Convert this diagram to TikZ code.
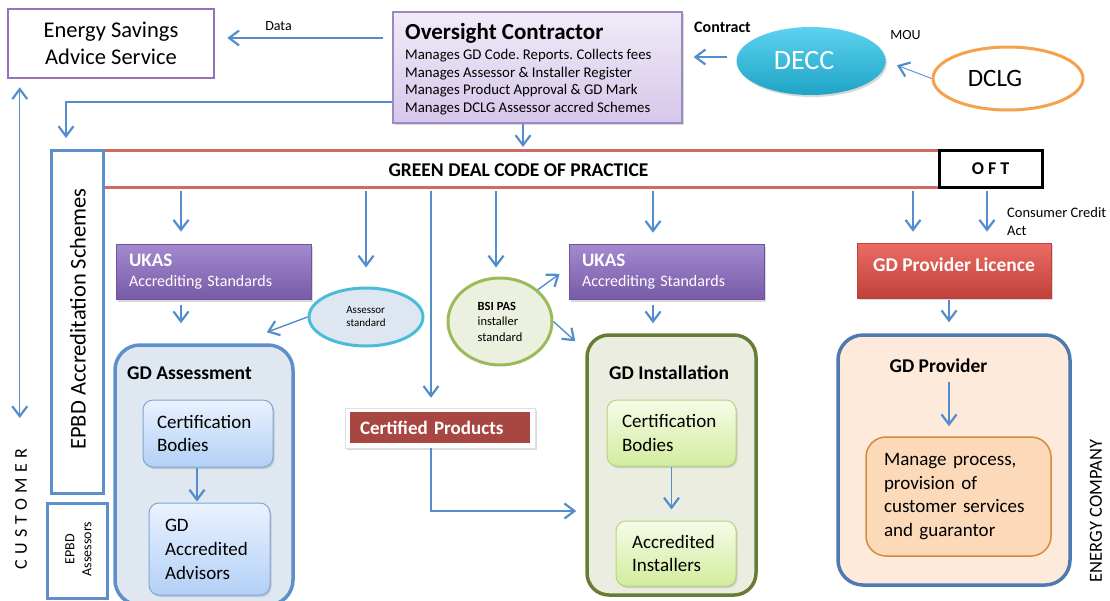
\documentclass[tikz,border=0pt]{standalone}
\usepackage{fontspec}
\setmainfont{Carlito}
\frenchspacing
\usetikzlibrary{arrows.meta,shapes.geometric,shadows}

\definecolor{arrowblue}{RGB}{84,141,206}
\definecolor{esaspurple}{RGB}{150,115,185}
\definecolor{octop}{RGB}{241,235,248}
\definecolor{ocbot}{RGB}{213,199,234}
\definecolor{ocline}{RGB}{158,136,194}
\definecolor{deccbright}{RGB}{92,210,238}
\definecolor{deccdark}{RGB}{30,164,198}
\definecolor{dclgorange}{RGB}{247,160,77}
\definecolor{codered}{RGB}{209,105,98}
\definecolor{epbdblue}{RGB}{92,143,204}
\definecolor{ukastop}{RGB}{163,138,208}
\definecolor{ukasbot}{RGB}{120,90,166}
\definecolor{ukasline}{RGB}{110,84,152}
\definecolor{asstdfill}{RGB}{222,231,241}
\definecolor{asstdline}{RGB}{75,188,216}
\definecolor{bsifill}{RGB}{235,241,222}
\definecolor{bsiline}{RGB}{155,187,89}
\definecolor{gdafill}{RGB}{223,231,241}
\definecolor{cbbluetop}{RGB}{234,242,254}
\definecolor{cbbluebot}{RGB}{178,208,246}
\definecolor{cbblueline}{RGB}{126,166,214}
\definecolor{gdifill}{RGB}{235,237,224}
\definecolor{gdiline}{RGB}{103,124,53}
\definecolor{cbgreentop}{RGB}{246,251,232}
\definecolor{cbgreenbot}{RGB}{210,237,158}
\definecolor{cbgreenline}{RGB}{180,214,124}
\definecolor{cpred}{RGB}{168,70,66}
\definecolor{lictop}{RGB}{234,108,99}
\definecolor{licbot}{RGB}{192,65,58}
\definecolor{gdpfill}{RGB}{253,234,219}
\definecolor{gdpline}{RGB}{77,122,176}
\definecolor{mgmtfill}{RGB}{251,217,185}
\definecolor{mgmtline}{RGB}{211,139,63}

\tikzset{
	arr/.style={draw=arrowblue, line width=1.4pt, -{Straight Barb[length=10pt,width=15pt,line width=2.2pt]}},
	arrboth/.style={arr, {Straight Barb[length=10pt,width=15pt,line width=2.2pt]}-{Straight Barb[length=10pt,width=15pt,line width=2.2pt]}},
	arrthin/.style={arr, line width=0.9pt},
	dropshade/.style={drop shadow={shadow xshift=1.5pt, shadow yshift=-2pt, opacity=0.3}},
	bodytext/.style={font=\fontsize{19}{23.5}\selectfont},
	boxtitle/.style={inner sep=0pt, font=\fontsize{19.5}{23}\selectfont\bfseries},
	ukasbox/.style={dropshade, draw=ukasline, line width=0.6pt, top color=ukastop, bottom color=ukasbot, text=white, minimum width=195pt, minimum height=55pt, inner xsep=13pt, text width=169pt, align=left, font=\fontsize{16}{20}\selectfont},
	cbblue/.style={bodytext, dropshade, rounded corners=10pt, draw=cbblueline, line width=1pt, top color=cbbluetop, bottom color=cbbluebot, align=left},
	cbgreen/.style={bodytext, dropshade, rounded corners=10pt, draw=cbgreenline, line width=1pt, top color=cbgreentop, bottom color=cbgreenbot, align=left},
	container/.style={rounded corners=25pt, line width=3.5pt, minimum height=260pt},
}

\begin{document}
\begin{tikzpicture}[x=1pt, y=-1pt]
	\useasboundingbox (0,0) rectangle (1110,600);

	\node[draw=esaspurple, line width=2.5pt, fill=white, minimum width=206pt, minimum height=69pt, align=center, font=\fontsize{22.5}{27.5}\selectfont] (esas) at (111,43.5) {Energy Savings\\Advice Service};
	\node[font=\fontsize{14}{16}\selectfont] (data) at (278.5,26) {Data};

	\node[dropshade, draw=ocline, line width=1.2pt, top color=octop, bottom color=ocbot, minimum width=289pt, minimum height=111pt] (oc) at (537.5,67.5) {};
	\node[anchor=west, inner sep=0pt, font=\fontsize{23}{26}\selectfont\bfseries] (octitle) at (405,33) {Oversight Contractor};
	\node[anchor=west, inner sep=0pt, align=left, font=\fontsize{14.8}{17.5}\selectfont] (ocduties) at (405,82) {Manages GD Code. Reports. Collects fees\\Manages Assessor \& Installer Register\\Manages Product Approval \& GD Mark\\Manages DCLG Assessor accred Schemes};

	\node[font=\fontsize{16}{18}\selectfont\bfseries] (contract) at (722.5,27) {Contract};
	\node[ellipse, dropshade, top color=deccbright, bottom color=deccdark, minimum width=149pt, minimum height=68pt, text=white, font=\fontsize{28}{30}\selectfont] (decc) at (811,61) {DECC\hspace*{14pt}};
	\node[font=\fontsize{14}{16}\selectfont] (mou) at (905.5,35) {MOU};
	\node[ellipse, draw=dclgorange, line width=3pt, fill=white, minimum width=150pt, minimum height=63pt, font=\fontsize{25}{28}\selectfont] (dclg) at (1008,78.5) {DCLG\hspace*{26pt}};

	\node[dropshade, draw=codered, line width=3pt, fill=white, minimum width=939pt, minimum height=37pt] (bar) at (572.5,168.5) {};
	\node[inner sep=0pt, font=\fontsize{19.5}{21}\selectfont\bfseries] (gdcop) at (518.5,170) {GREEN DEAL CODE OF PRACTICE};
	\node[dropshade, draw=black, line width=3pt, fill=white, minimum width=103pt, minimum height=37pt, font=\fontsize{18}{20}\selectfont\bfseries] (oft) at (990.5,168.5) {O F T};

	\node[draw=epbdblue, line width=3pt, fill=white, minimum width=52pt, minimum height=343pt] (epbd) at (77,321.5) {};
	\node[rotate=90, inner sep=0pt, font=\fontsize{22.5}{24}\selectfont] (epbdtxt) at (78,319) {EPBD Accreditation Schemes};
	\node[draw=epbdblue, line width=3pt, fill=white, minimum width=60pt, minimum height=95pt] (epbdass) at (77,550.5) {};
	\node[rotate=90, inner sep=0pt, align=center, font=\fontsize{14}{17}\selectfont] (epbdasstxt) at (78.5,549) {EPBD\\Assessors};
	\node[rotate=90, inner sep=0pt, font=\fontsize{18}{20}\selectfont\addfontfeature{LetterSpace=30}] (customer) at (21,509) {CUSTOMER};

	\node[ukasbox] (ukasL) at (213.5,272) {{\fontsize{19}{22}\selectfont\bfseries UKAS}\\Accrediting Standards};
	\node[ukasbox] (ukasR) at (666.5,272) {{\fontsize{19}{22}\selectfont\bfseries UKAS}\\Accrediting Standards};

	\node[ellipse, draw=asstdline, line width=3pt, fill=asstdfill, minimum width=114pt, minimum height=58pt, align=left, font=\fontsize{11}{13}\selectfont] (asstd) at (366,317) {Assessor\\standard};
	\node[ellipse, draw=bsiline, line width=3pt, fill=bsifill, minimum width=104pt, minimum height=87pt, align=left, font=\fontsize{12.5}{15.5}\selectfont] (bsi) at (500,321.5) {\textbf{BSI PAS}\\installer\\standard};

	\node[container, draw=epbdblue, fill=gdafill, minimum width=178pt] (gda) at (204,475) {};
	\node[boxtitle, anchor=west] (gdatitle) at (127,373) {GD Assessment};
	\node[cbblue, minimum width=130pt, minimum height=67pt, inner xsep=14pt, text width=102pt] (cbA) at (208,433.5) {Certification\\Bodies};
	\node[cbblue, minimum width=121pt, minimum height=92pt, inner xsep=16pt, text width=89pt, font=\fontsize{19}{24}\selectfont] (advA) at (209.5,549) {GD\\Accredited\\Advisors};

	\node[dropshade, draw=black!12, fill=white, minimum width=190pt, minimum height=40pt] (cp) at (440,428) {};
	\node[fill=cpred, text=white, minimum width=180pt, minimum height=31pt, inner xsep=10pt, text width=160pt, align=left, font=\fontsize{19}{21}\selectfont\bfseries] (cpin) at (440,427.5) {Certified Products};

	\node[container, draw=gdiline, fill=gdifill, rounded corners=22pt, minimum width=169pt] (gdi) at (671.5,465) {};
	\node[boxtitle, anchor=west] (gdititle) at (609,373) {GD Installation};
	\node[cbgreen, minimum width=129pt, minimum height=66pt, inner xsep=15pt, text width=99pt] (cbI) at (671.5,433) {Certification\\Bodies};
	\node[cbgreen, minimum width=120pt, minimum height=65pt, inner xsep=16pt, text width=88pt] (instI) at (676,553.5) {Accredited\\Installers};

	\node[dropshade, draw=licbot, line width=0.6pt, top color=lictop, bottom color=licbot, text=white, minimum width=194pt, minimum height=55pt, font=\fontsize{19.5}{22}\selectfont\bfseries] (lic) at (954,270.5) {\raisebox{11pt}{GD Provider Licence}};
	\node[anchor=west, inner sep=0pt, align=left, font=\fontsize{14.5}{18}\selectfont] (cca) at (1007,222) {Consumer Credit\\Act};

	\node[container, draw=gdpline, fill=gdpfill, minimum width=232pt, minimum height=250pt] (gdp) at (954,460) {};
	\node[boxtitle] (gdptitle) at (938.5,366) {GD Provider};
	\node[rounded corners=20pt, draw=mgmtline, line width=1.5pt, fill=mgmtfill, minimum width=185pt, minimum height=119pt, inner xsep=18pt, text width=149pt, align=left, bodytext] (mgmt) at (958.5,496.5) {Manage process,\\provision of\\customer services\\and guarantor};
	\node[rotate=90, inner sep=0pt, font=\fontsize{18.5}{20}\selectfont] (energy) at (1096,511) {ENERGY COMPANY};

	\coordinate (epbdin) at (66,138);
	\coordinate (custend) at (21,418);

	\draw[arr, shorten <=9pt, shorten >=12pt] ([yshift=5.5pt]esas.east -| oc.west) -- ([yshift=5.5pt]esas.east);
	\draw[arr, shorten <=9pt, shorten >=11pt] ([yshift=4pt]decc.west) -- ([yshift=4pt]decc.west -| oc.east);
	\draw[arrthin, shorten >=12pt] (dclg.west) -- (decc.east);
	\draw[arr, shorten >=1.5pt] ([xshift=-14.5pt]oc.south) -- ([xshift=-14.5pt]oc.south |- bar.north);
	\draw[arr] ([yshift=-34.5pt]oc.west) -| (epbdin);
	\draw[arrboth, shorten <=8pt] ([xshift=13pt]esas.south west) -- ([xshift=13pt]esas.south west |- custend);

	\draw[arr, shorten <=2pt, shorten >=12.5pt] ([xshift=-32.5pt]ukasL.north |- bar.south) -- ([xshift=-32.5pt]ukasL.north);
	\draw[arr, shorten <=2pt, shorten >=19pt] (asstd.north |- bar.south) -- (asstd.north);
	\draw[arr, shorten <=2pt, shorten >=10pt] ([xshift=-9pt]cp.north |- bar.south) -- ([xshift=-9pt]cp.north);
	\draw[arr, shorten <=2pt, shorten >=9pt] ([xshift=-4pt]bsi.north |- bar.south) -- ([xshift=-4pt]bsi.north);
	\draw[arr, shorten <=2pt, shorten >=11.5pt] ([xshift=-13.5pt]ukasR.north |- bar.south) -- ([xshift=-13.5pt]ukasR.north);
	\draw[arr, shorten <=2pt, shorten >=11pt] ([xshift=-41pt]lic.north |- oft.south) -- ([xshift=-41pt]lic.north);
	\draw[arr, shorten <=2pt, shorten >=11pt] ([xshift=33pt]lic.north |- oft.south) -- ([xshift=33pt]lic.north);

	\draw[arr, shorten <=5.5pt, shorten >=20pt] ([xshift=-32.5pt]ukasL.south) -- ([xshift=-32.5pt]ukasL.south |- gda.north);
	\draw[arr, shorten <=5.5pt, shorten >=10pt] ([xshift=-13.5pt]ukasR.south) -- ([xshift=-13.5pt]ukasR.south |- gdi.north);
	\draw[arr] (asstd.west) -- ([xshift=-28pt, yshift=11pt]gda.north east);
	\draw[arr] (bsi.north east) -- ([xshift=-9pt, yshift=26pt]ukasR.south west);
	\draw[arr] (bsi.east) -- ([xshift=-10pt, yshift=-8pt]gdi.north west);
	\draw[arr, shorten >=9pt] ([xshift=-9pt]cp.south) |- ([yshift=-46pt]gdi.west);

	\draw[arr, shorten >=1pt] ([xshift=-11pt]cbA.south) -- ([xshift=-11pt]cbA.south |- advA.north);
	\draw[arr, shorten >=11pt] (cbI.south) -- (cbI.south |- instI.north);
	\draw[arr, shorten <=2pt, shorten >=11pt] ([xshift=-5pt]lic.south) -- ([xshift=-5pt]lic.south |- gdp.north);
	\draw[arr, shorten <=9pt, shorten >=10pt] ([xshift=-9.5pt]mgmt.north |- gdptitle.south) -- ([xshift=-9.5pt]mgmt.north);

\end{tikzpicture}
\end{document}
